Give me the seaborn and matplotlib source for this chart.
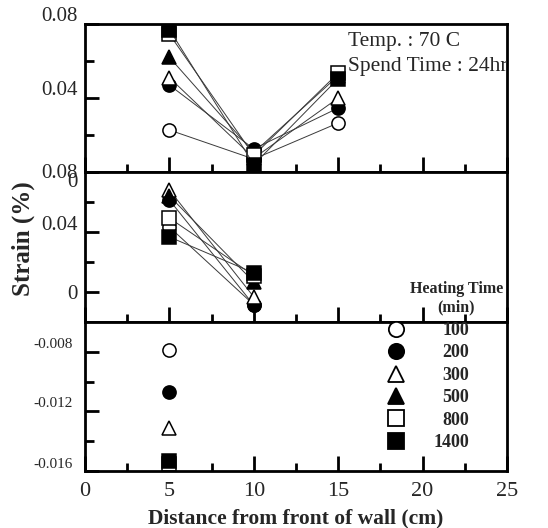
import matplotlib
matplotlib.use("Agg")
import matplotlib.pyplot as plt
import matplotlib.transforms as mtrans
from matplotlib.lines import Line2D
import seaborn as sns
import pandas as pd

sns.set_theme(style="white")
plt.rcParams['font.family'] = ['Liberation Serif', 'DejaVu Serif']

# ---------------- data ----------------
heating_times = ["100", "200", "300", "500", "800", "1400"]
markers = ["o", "o", "^", "^", "s", "s"]
filled = [False, True, False, True, False, True]

x_top = [5, 10, 15]
top_100 = [0.0227, 0.0070, 0.0265]
top_200 = [0.0470, 0.0125, 0.0346]
top_300 = [0.0510, 0.0075, 0.0400]
top_500 = [0.0620, 0.0105, 0.0520]
top_800 = [0.0745, 0.0090, 0.0535]
top_1400 = [0.0770, 0.0040, 0.0505]

x_mid = [5, 10]
mid_100 = [0.0433, -0.0085]
mid_200 = [0.0613, -0.0087]
mid_300 = [0.0680, -0.0033]
mid_500 = [0.0640, 0.0067]
mid_800 = [0.0493, 0.0110]
mid_1400 = [0.0367, 0.0127]

x_bot = [5]
bot_100 = [-0.0079]
bot_200 = [-0.0107]
bot_300 = [-0.0131]
bot_500 = [-0.0156]
bot_800 = [-0.0155]
bot_1400 = [-0.0153]

top_series = [top_100, top_200, top_300, top_500, top_800, top_1400]
mid_series = [mid_100, mid_200, mid_300, mid_500, mid_800, mid_1400]
bot_series = [bot_100, bot_200, bot_300, bot_500, bot_800, bot_1400]

x_ticks = [0, 5, 10, 15, 20, 25]
x_ticklabels = ["0", "5", "10", "15", "20", "25"]
top_yticks = [0, 0.04, 0.08]
top_yticklabels = ["0.08", "0.04", "0.08"]
mid_yticks = [0, 0.04, 0.08]
mid_yticklabels = ["0", "0.04", "0"]
bot_yticks = [-0.016, -0.012, -0.008]
bot_yticklabels = ["-0.016", "-0.012", "-0.008"]

# ---------------- figure ----------------
W, H = 548, 528
fig = plt.figure(figsize=(W / 100, H / 100), dpi=100)
fig.patch.set_facecolor("white")

def rect(top_px, bot_px, left_px=85, right_px=507):
    return [left_px / W, 1 - bot_px / H, (right_px - left_px) / W, (bot_px - top_px) / H]

ax1 = fig.add_axes(rect(24, 172))
ax2 = fig.add_axes(rect(172, 322))
ax3 = fig.add_axes(rect(322, 471))
ax3.set_zorder(5)

def draw_series(ax, xs, series):
    for vals, m, f, name in zip(series, markers, filled, heating_times):
        df = pd.DataFrame({"x": xs, "y": vals})
        sns.lineplot(data=df, x="x", y="y", ax=ax, color="#3a3a3a", linewidth=0.7,
                     marker=m, markersize=9.5,
                     markerfacecolor="black" if f else "white",
                     markeredgecolor="black", markeredgewidth=1.1,
                     estimator=None, sort=False, legend=False)

draw_series(ax1, x_top, top_series)
draw_series(ax2, x_mid, mid_series)
draw_series(ax3, x_bot, bot_series)

ax1.set_ylim(0, 0.08)
ax2.set_ylim(-0.02, 0.08)
ax3.set_ylim(-0.016, -0.006)

def style_axis(ax, yt, ytl, yminor, ysize, ypad, offsets):
    ax.set_xlim(0, 25)
    for s in ax.spines.values():
        s.set_visible(True)
        s.set_color("black")
        s.set_linewidth(2.0)
    ax.set_xticks(x_ticks)
    ax.set_xticks([2.5, 7.5, 12.5, 17.5, 22.5], minor=True)
    ax.set_yticks(yt)
    ax.set_yticklabels(ytl)
    ax.set_yticks(yminor, minor=True)
    ax.tick_params(axis="both", which="both", direction="in", color="black",
                   top=False, right=False, bottom=True, left=True)
    ax.tick_params(axis="x", which="major", length=11, width=2)
    ax.tick_params(axis="x", which="minor", length=5.5, width=2)
    ax.tick_params(axis="y", which="major", length=10, width=2, labelsize=ysize, pad=ypad)
    ax.tick_params(axis="y", which="minor", length=6.5, width=2)
    for lab, dy in zip(ax.get_yticklabels(), offsets):
        lab.set_transform(lab.get_transform() +
                          mtrans.ScaledTranslation(0, dy / 100, fig.dpi_scale_trans))
    ax.set_xlabel("")
    ax.set_ylabel("")
    ax.grid(False)

style_axis(ax1, top_yticks, top_yticklabels, [0.02, 0.06], 15, 5, [1, 10, 10])
style_axis(ax2, mid_yticks, mid_yticklabels, [0.02, 0.06], 15, 5, [0, 9, -8])
style_axis(ax3, bot_yticks, bot_yticklabels, [-0.014, -0.010], 11, 9, [8, 9, 9])

ax1.tick_params(axis="x", labelbottom=False)
ax2.tick_params(axis="x", labelbottom=False)
ax3.set_xticklabels(x_ticklabels)
ax3.tick_params(axis="x", which="major", labelsize=16, pad=8)

ax3.set_xlabel("Distance from front of wall (cm)", fontsize=15.5, fontweight="bold", labelpad=5)
fig.text(23 / W, 1 - 239 / H, "Strain (%)", rotation=90, fontsize=18, fontweight="bold",
         ha="center", va="center")

# annotations
ax1.text(15.6, 0.0703, "Temp. : 70 C", fontsize=15.5, va="center", ha="left", clip_on=True)
ax1.text(15.6, 0.0568, "Spend Time : 24hr", fontsize=15.5, va="center", ha="left", clip_on=True)

ax2.text(22.0, -0.004, "Heating Time\n(min)", fontsize=11.5, fontweight="bold",
         ha="center", va="center", linespacing=1.2)

# legend
handles = [Line2D([], [], linestyle="none", marker=m, markersize=11,
                  markerfacecolor="black" if f else "white", markeredgecolor="black",
                  markeredgewidth=1.3)
           for m, f in zip(markers, filled)]
leg = ax3.legend(handles, heating_times, loc="upper left", bbox_to_anchor=(0.715, 1.0),
                 frameon=False, prop={"weight": "bold", "size": 13}, handlelength=1.0,
                 handletextpad=1.6, labelspacing=0.3, borderpad=0, borderaxespad=0)

fig.canvas.draw()
renderer = fig.canvas.get_renderer()
texts = leg.get_texts()
widths = [t.get_window_extent(renderer).width for t in texts]
maxw = max(widths)
for t, w in zip(texts, widths):
    t.set_position((maxw - w, 0))

fig.savefig("out.png", dpi=100, facecolor="white")
